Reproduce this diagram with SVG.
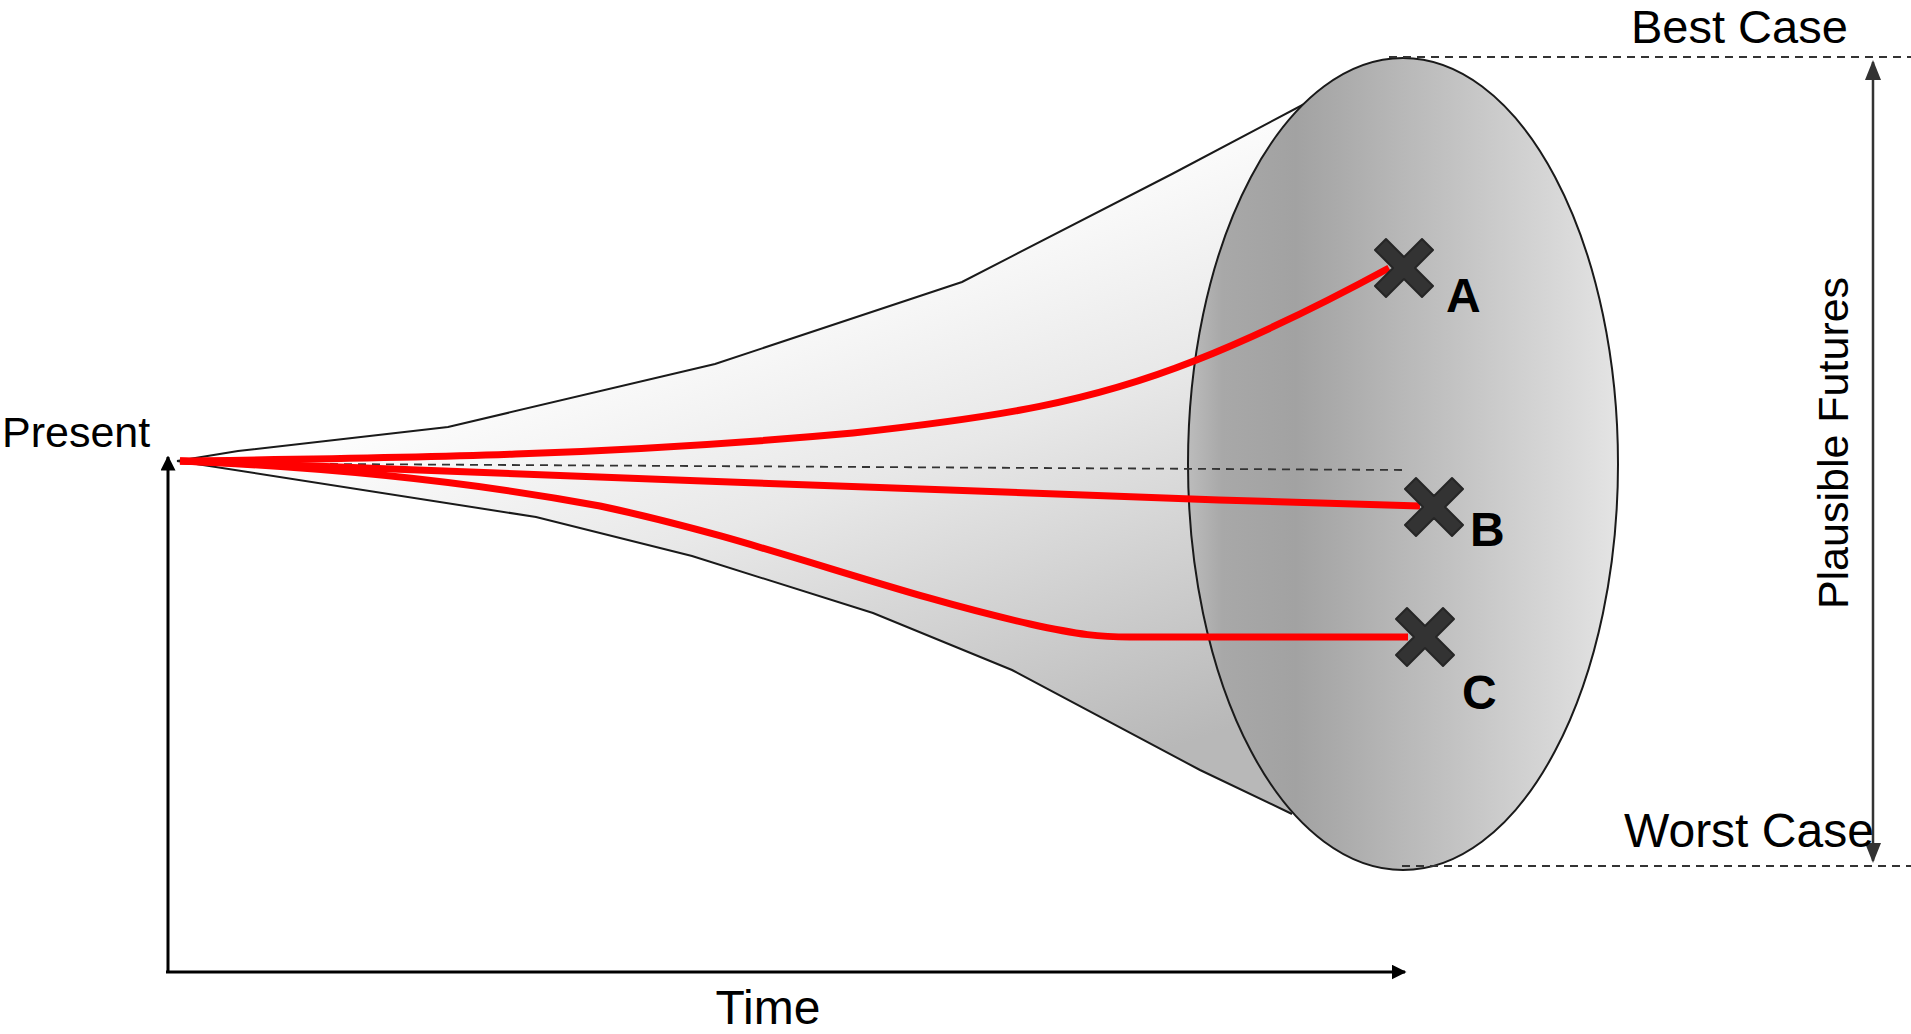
<svg xmlns="http://www.w3.org/2000/svg" width="1911" height="1034" viewBox="0 0 1911 1034">
<defs>
<style>
.lbl{font-family:"Liberation Sans",Arial,sans-serif;font-size:48px;fill:#000}
.bold{font-family:"Liberation Sans",Arial,sans-serif;font-size:48px;font-weight:bold;fill:#000}
.red{fill:none;stroke:#ff0000;stroke-width:7;stroke-linecap:butt}
.dash{fill:none;stroke:#333;stroke-width:1.8;stroke-dasharray:8 6}
.axis{fill:none;stroke:#000;stroke-width:3}
.cross{fill:#333;stroke:#262626;stroke-width:2;stroke-linejoin:round}
</style>
<linearGradient id="coneG" gradientUnits="userSpaceOnUse" x1="800" y1="250" x2="1000" y2="810">
<stop offset="0" stop-color="#ffffff"/>
<stop offset="0.4" stop-color="#e8e8e8"/>
<stop offset="1" stop-color="#b8b8b8"/>
</linearGradient>
<linearGradient id="ellG" gradientUnits="userSpaceOnUse" x1="1188" y1="0" x2="1618" y2="0">
<stop offset="0" stop-color="#bcbcbc"/>
<stop offset="0.08" stop-color="#a8a8a8"/>
<stop offset="0.25" stop-color="#a2a2a2"/>
<stop offset="1" stop-color="#e4e4e4"/>
</linearGradient>
<marker id="ah" viewBox="0 0 10 10" refX="9" refY="5" markerWidth="5" markerHeight="5" orient="auto-start-reverse" markerUnits="strokeWidth">
<path d="M0,0 L10,5 L0,10 z" fill="#000"/>
</marker>
<marker id="ah2" viewBox="0 0 10 10" refX="9" refY="5" markerWidth="8" markerHeight="8" orient="auto-start-reverse" markerUnits="strokeWidth">
<path d="M0,1 L10,5 L0,9 z" fill="#333"/>
</marker>
<path id="x" d="M-18,-29 L0,-11 L18,-29 L29,-18 L11,0 L29,18 L18,29 L0,11 L-18,29 L-29,18 L-11,0 L-29,-18 z"/>
</defs>
<rect width="1911" height="1034" fill="#fff"/>

<g id="cone">
<path d="M177,461 L238,451 L448,427 L715,364 L962,282 L1172,174 L1310,101 L1300,800 L1292,814 L1200,770 L1012,670 L873,613 L692,556 L536,517 Z" fill="url(#coneG)" stroke="none"/>
<polyline points="177,461 238,451 448,427 715,364 962,282 1172,174 1310,101" fill="none" stroke="#1a1a1a" stroke-width="2"/>
<polyline points="177,461 536,517 692,556 873,613 1012,670 1200,770 1292,814" fill="none" stroke="#1a1a1a" stroke-width="2"/>
</g>

<g id="ellipse">
<ellipse cx="1403" cy="464" rx="215" ry="406" fill="url(#ellG)" stroke="#1a1a1a" stroke-width="2"/>
</g>

<g id="connectors">
<line class="dash" x1="330" y1="464" x2="1402" y2="470"/>
<line class="dash" x1="1389" y1="57" x2="1911" y2="57"/>
<line class="dash" x1="1402" y1="866" x2="1911" y2="866"/>
<line x1="1873" y1="62" x2="1873" y2="861" stroke="#333" stroke-width="2.5" marker-start="url(#ah2)" marker-end="url(#ah2)"/>
<line class="axis" x1="168" y1="973" x2="168" y2="457" marker-end="url(#ah)"/>
<line class="axis" x1="166" y1="972" x2="1405" y2="972" marker-end="url(#ah)"/>
<path class="red" d="M180,461 C400,458 600,456 853,433 C1000,417 1090,402 1194,361 C1260,335 1330,300 1389,268"/>
<path class="red" d="M180,461 C500,472 900,490 1219,500 L1420,506"/>
<path class="red" d="M180,461 C300,466 450,478 600,506 C760,540 880,590 1030,624 C1080,635 1100,637 1130,637 L1408,637"/>
</g>

<g id="markerA"><use href="#x" class="cross" x="1404" y="268"/><text class="bold" x="1446" y="312">A</text></g>
<g id="markerB"><use href="#x" class="cross" x="1434" y="507"/><text class="bold" x="1470" y="546">B</text></g>
<g id="markerC"><use href="#x" class="cross" x="1425" y="637"/><text class="bold" x="1462" y="709">C</text></g>

<g id="labels">
<text class="lbl" x="1631" y="43" style="font-size:47px">Best Case</text>
<text class="lbl" x="1624" y="847">Worst Case</text>
<text class="lbl" x="2" y="447" style="font-size:43px">Present</text>
<text class="lbl" x="768" y="1024" text-anchor="middle">Time</text>
<text class="lbl" transform="translate(1848,443) rotate(-90)" text-anchor="middle" style="font-size:43px">Plausible Futures</text>
</g>
</svg>
